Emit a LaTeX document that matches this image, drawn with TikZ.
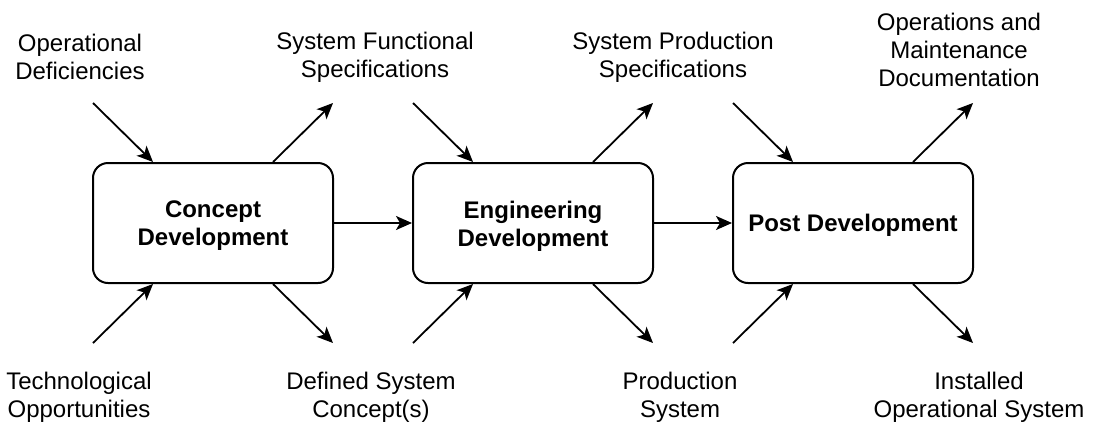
\documentclass[tikz,border=0pt]{standalone}
\usepackage{fontspec}
\setmainfont{Liberation Sans}
\usetikzlibrary{arrows.meta}
\begin{document}
\begin{tikzpicture}[x=1pt,y=-1pt,
  stage/.style={draw, line width=2pt, rounded corners=15pt, minimum width=240pt, minimum height=120pt, align=center, font=\fontsize{24}{28}\selectfont\bfseries, inner sep=0pt},
  stagetext/.style={align=center, font=\fontsize{24}{28}\selectfont\bfseries, inner sep=0pt},
  lbl/.style={align=center, font=\fontsize{24}{28}\selectfont, inner sep=0pt},
  arr/.style={line width=1.8pt, -{Stealth[length=16pt,width=14pt,inset=4pt]}}]
\useasboundingbox (0,0) rectangle (1116,426);
\node[stage] (cd) at (213,223) {};
\node[stage] (ed) at (533,223) {};
\node[stage] (pd) at (853,223) {};
\node[stagetext] (cdt) at (213,226) {Concept\\Development};
\node[stagetext] (edt) at (533,226) {Engineering\\Development};
\node[stagetext] (pdt) at (853,225) {Post Development};
% labels
\node[lbl] (od) at (80,57) {Operational\\Deficiencies};
\node[lbl] (sfs) at (375,57) {System Functional\\Specifications};
\node[lbl] (sps) at (673,57) {System Production\\Specifications};
\node[lbl] (omd) at (959,50) {Operations and\\Maintenance\\Documentation};
\node[lbl] (to) at (79,397) {Technological\\Opportunities};
\node[lbl] (dsc) at (371,397) {Defined System\\Concept(s)};
\node[lbl] (ps) at (680,397) {Production\\System};
\node[lbl] (ios) at (979,397) {Installed\\Operational System};
% free ends
\foreach \n/\x in {a/0,b/320,c/640}{
  \coordinate (\n in1) at (93+\x,103);
  \coordinate (\n out1) at (333+\x,103);
  \coordinate (\n in2) at (93+\x,343);
  \coordinate (\n out2) at (333+\x,343);
}
\foreach \n/\b in {a/cd,b/ed,c/pd}{
  \draw[arr] (\n in1) -- ([xshift=-60pt]\b.north);
  \draw[arr] ([xshift=60pt]\b.north) -- (\n out1);
  \draw[arr] (\n in2) -- ([xshift=-60pt]\b.south);
  \draw[arr] ([xshift=60pt]\b.south) -- (\n out2);
}
\draw[arr] (cd.east) -- (ed.west);
\draw[arr] (ed.east) -- (pd.west);
\end{tikzpicture}
\end{document}
